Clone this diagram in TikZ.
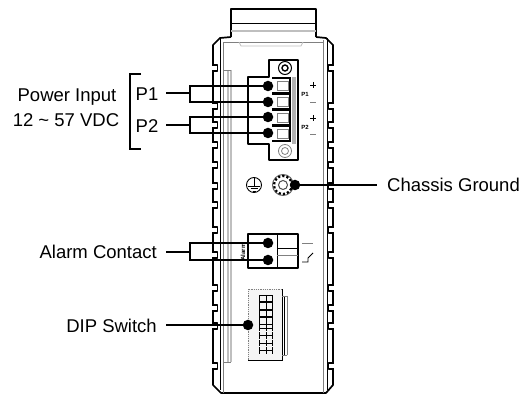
\documentclass[tikz,border=0pt]{standalone}
\usepackage{fontspec}
\setmainfont{Liberation Sans}
\usetikzlibrary{arrows}
\tikzset{
  wire/.style={line width=1.4pt,black},
  hull/.style={line width=1.7pt,black,line join=round},
  thick line/.style={line width=1.3pt,black},
  pale/.style={line width=0.8pt,black!25},
  mid/.style={line width=0.8pt,black!50},
  dot/.style={circle,fill=black,inner sep=0pt,minimum size=10.5pt},
  label/.style={font=\fontsize{18.5}{21}\selectfont,inner sep=0pt},
  tiny/.style={font=\fontsize{6}{6}\bfseries\selectfont,inner sep=0pt}
}
\begin{document}
\begin{tikzpicture}[x=1pt,y=-1pt]
  \useasboundingbox (0,0) rectangle (520,395);

  % mounting clip
  \draw[hull] (231,37) -- (231,9) -- (316,9) -- (316,37);
  \draw[thick line,line width=0.8pt] (231,23) -- (316,23);
  \draw[pale,line width=2pt] (231,31) -- (316,31);

  % housing
  \draw[hull] (231,37) -- (220,38) -- (213,45) -- (213,385) -- (221,393) -- (326,393)
    -- (333,385) -- (333,45) -- (326,38) -- (316,37);
  \draw[thick line,line width=1pt] (220,38) -- (220,390);
  \draw[mid] (323,40) -- (323,393);
  \draw[thick line,line width=1pt] (327,38) -- (327,390);
  \draw[mid] (223,42) -- (323,42);
  \draw[mid] (223,42) -- (223,393);
  \draw[pale] (239,42) -- (241,46) -- (301,46) -- (303,42);
  \draw[pale,line width=1.2pt] (228,70) -- (228,362);
  \draw[pale,line width=1.2pt] (231,70) -- (231,362);
  \draw[mid] (223,70) -- (231,70);
  \draw[mid] (223,362) -- (231,362);
  \foreach \y in {65,103,122,142,162,183,202,227,252,285,305,323,363} {
    \draw[white,line width=2.4pt] (213,\y+1) -- (213,\y+5);
    \draw[white,line width=2.4pt] (333,\y+1) -- (333,\y+5);
    \draw[hull] (213,\y) -- (217.5,\y) -- (217.5,\y+6) -- (213,\y+6);
    \draw[hull] (333,\y) -- (328.5,\y) -- (328.5,\y+6) -- (333,\y+6);
  }

  % power connector
  \draw[hull] (269,77) -- (269,60) -- (298,60) -- (298,160) -- (269,160) -- (269,144)
    -- (248,144) -- (248,77) -- cycle;
  \fill[black!30] (292,77) rectangle (296,144);
  \foreach \y in {78,94,110,126} {
    \draw[thick line] (272,\y) -- (290,\y) -- (290,\y+15) -- (272,\y+15);
    \draw[mid] (277,\y+3) rectangle (288,\y+12);
  }
  \node[circle,draw,line width=1pt,minimum size=13pt,inner sep=0pt] (screwtop) at (285,68) {};
  \node[circle,draw,line width=1.4pt,minimum size=6pt,inner sep=0pt] at (screwtop) {};
  \node[circle,draw,mid,minimum size=13pt,inner sep=0pt] (screwbot) at (285,151) {};
  \node[circle,draw,mid,minimum size=7pt,inner sep=0pt] at (screwbot) {};
  \node[tiny] (mark1) at (305,94) {P1};
  \node[tiny] (mark2) at (305,127) {P2};
  \draw[thick line,line width=0.8pt] (310,85) -- (316,85) (313,82) -- (313,88);
  \draw[mid] (310,102) -- (316,102);
  \draw[thick line,line width=0.8pt] (310,118) -- (316,118) (313,115) -- (313,121);
  \draw[mid] (310,134) -- (316,134);

  % ground
  \node[circle,draw,line width=0.9pt,minimum size=15pt,inner sep=0pt] (earth) at (254,185) {};
  \draw[line width=0.8pt] (earth.north) -- (254,186) (248,186) -- (260,186) (250.5,188.5) -- (257.5,188.5)
    (252.5,191) -- (255.5,191);
  \node[circle,draw,line width=1pt,black!60,minimum size=21pt,inner sep=0pt] (lug) at (283,185) {};
  \node[circle,draw,dotted,line width=2.2pt,black,minimum size=18pt,inner sep=0pt] at (lug) {};
  \node[circle,draw,line width=1pt,black!70,minimum size=9pt,inner sep=0pt] at (lug) {};

  % alarm connector
  \draw[hull] (248,234) rectangle (298,268);
  \draw[thick line,line width=0.8pt] (277,234) -- (277,268);
  \draw[thick line,line width=0.8pt] (277,248) -- (298,248);
  \draw[mid] (277,255) -- (298,255);
  \node[tiny,rotate=90] (alarmmark) at (243,252) {Alarm};
  \draw[mid] (302,243) -- (313,243);
  \draw[thick line,line width=0.8pt] (302,262) -- (308,262) -- (308,258) -- (313,253);

  % dip switch
  \fill[black!4] (248,289) rectangle (282,361);
  \draw[mid,densely dotted] (282,289) -- (248,289) -- (248,361);
  \draw[thick line,line width=1pt] (248,361) -- (282,361) -- (282,289);
  \draw[line width=0.7pt] (284,296) -- (284,355);
  \draw[mid] (287,296) -- (287,355);
  \draw[mid] (282,296) -- (287,296) (282,355) -- (287,355);
  \foreach \y in {295,302.5,310,317.5} {
    \draw[line width=0.7pt] (259,\y) rectangle (272,\y+6.5);
    \draw[line width=0.5pt] (266,\y) -- (266,\y+6.5);
  }
  \foreach \y in {325,332.5,340,347.5} {
    \draw[line width=0.7pt] (259,\y+3) -- (272,\y+3) (259,\y) -- (259,\y+6.5) (266,\y) -- (266,\y+6.5)
      (272,\y) -- (272,\y+6.5);
  }

  % labels
  \node[label] (power) at (67,97) {Power Input};
  \node[label] (volts) at (66,120) {12 \textasciitilde{} 57 VDC};
  \node[label] (p1) at (147,94) {P1};
  \node[label] (p2) at (147,126) {P2};
  \node[label,anchor=west] (chassis) at (387,185) {Chassis Ground};
  \node[label,anchor=east] (alarm) at (157,252) {Alarm Contact};
  \node[label,anchor=east] (dip) at (157,326) {DIP Switch};

  \node[dot] (t1) at (268,86) {};
  \node[dot] (t2) at (268,102) {};
  \node[dot] (t3) at (268,117) {};
  \node[dot] (t4) at (268,133) {};
  \node[dot] (a1) at (268,243) {};
  \node[dot] (a2) at (268,260) {};
  \node[dot] (gnd) at (295,185) {};
  \node[dot] (sw) at (248,325) {};

  \coordinate (j1) at (190,93);
  \coordinate (j2) at (190,125);
  \coordinate (j3) at (190,252);
  \coordinate (s1) at (141,74);
  \coordinate (s2) at (141,149);
  \coordinate (e1) at (166,93);
  \coordinate (e2) at (166,125);
  \coordinate (e3) at (166,252);
  \coordinate (e4) at (166,325);
  \coordinate (e5) at (377,185);

  \draw[wire] (s1) -- (130,74) -- (130,149) -- (s2);
  \draw[wire] (e1) -- (j1);
  \draw[wire] (e2) -- (j2);
  \draw[wire] (t1.center) -| (j1) |- (t2.center);
  \draw[wire] (t3.center) -| (j2) |- (t4.center);
  \draw[wire] (a1.center) -| (j3) |- (a2.center);
  \draw[wire] (e3) -- (j3);
  \draw[wire] (gnd) -- (e5);
  \draw[wire] (e4) -- (sw);
\end{tikzpicture}
\end{document}
